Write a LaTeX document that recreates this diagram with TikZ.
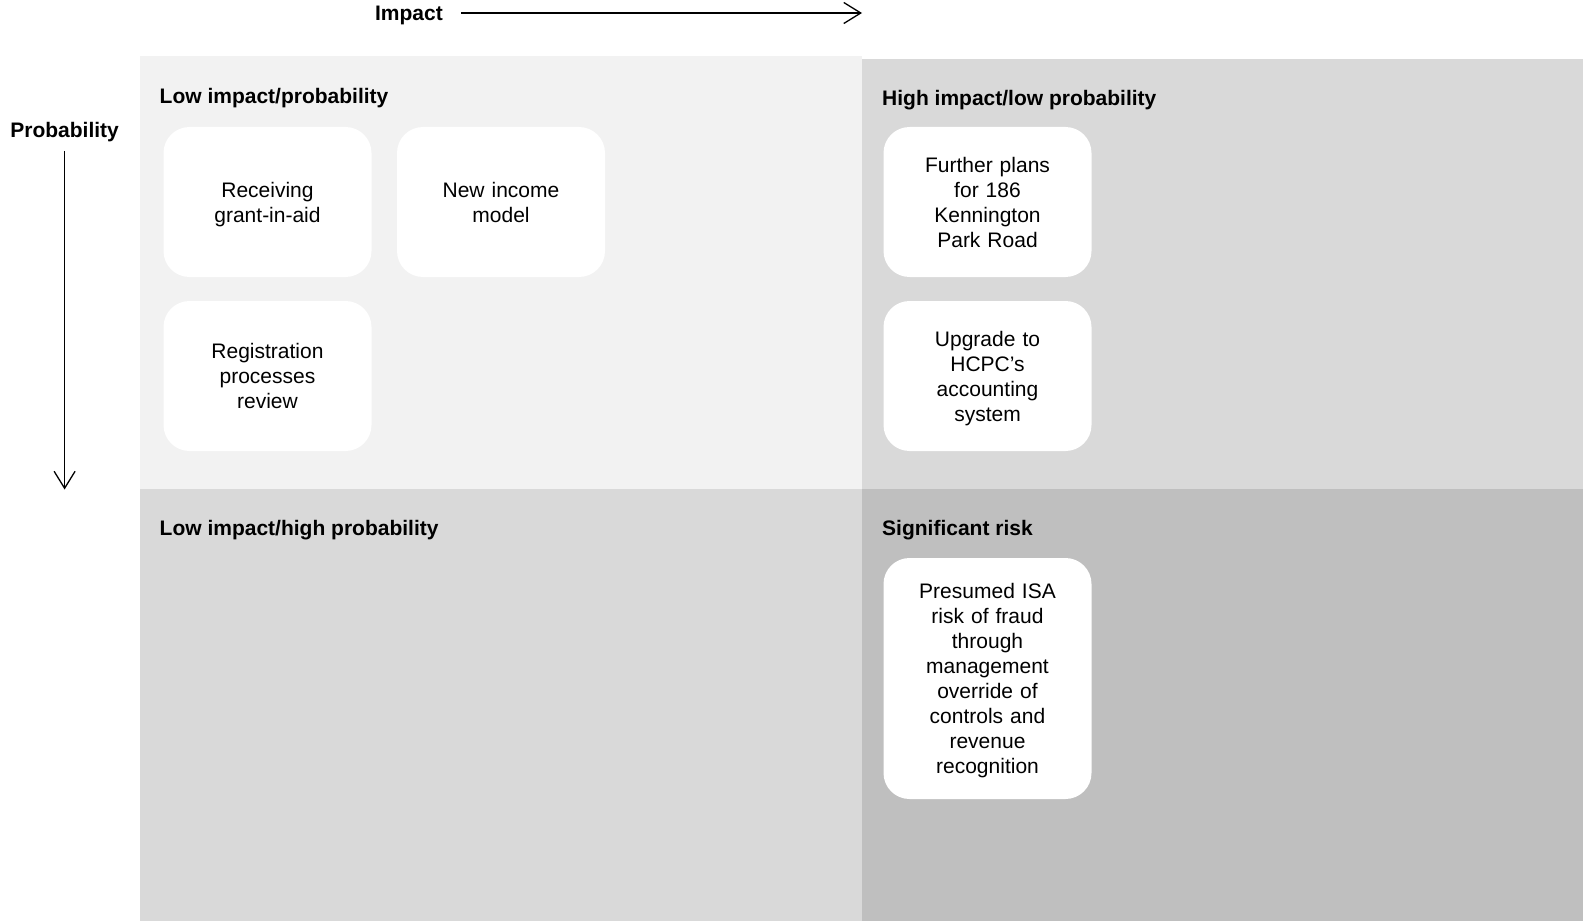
\documentclass[tikz,border=0pt]{standalone}
\usepackage{fontspec}
\setmainfont{Liberation Sans}
\usetikzlibrary{arrows.meta}
\definecolor{qa}{HTML}{F2F2F2}
\definecolor{qb}{HTML}{D9D9D9}
\definecolor{qc}{HTML}{BFBFBF}
\newcommand\lnstrut{\rule[-4.7pt]{0pt}{25pt}}
\tikzset{
  riskbox/.style={rectangle, rounded corners=26pt, fill=white, minimum width=208pt, minimum height=150pt, align=center, text width=190pt, inner sep=0pt, font=\fontsize{21}{25}\selectfont},
  quadlabel/.style={anchor=west, inner sep=0pt, font=\bfseries\fontsize{21}{25.3}\selectfont},
  axislabel/.style={inner sep=0pt, font=\bfseries\fontsize{21}{25.3}\selectfont},
  axisarrow/.style={line width=1.3pt, -{Straight Barb[length=17pt,width=21pt,line width=1.3pt]}}
}
\begin{document}
\begin{tikzpicture}[x=1pt,y=-1pt]
\useasboundingbox (0,0) rectangle (1583,923);
% quadrants
\fill[qa] (139.5,56) rectangle (862,488.5);
\fill[qb] (862,59) rectangle (1583,488.5);
\fill[qb] (139.5,488.5) rectangle (862,921);
\fill[qc] (862,488.5) rectangle (1583,921);
% axes
\node[axislabel] (impact) at (409,15) {Impact};
\coordinate (impA) at (461,13);
\coordinate (impB) at (862,13);
\draw[axisarrow] (impA) -- (impB);
\node[axislabel] (prob) at (64.6,132) {Probability};
\coordinate (probA) at (64.6,151);
\coordinate (probB) at (64.6,489.5);
\draw[axisarrow] (probA) -- (probB);
% quadrant labels
\node[quadlabel] (q1) at (159.5,98.5) {Low impact/probability};
\node[quadlabel] (q2) at (882,100.5) {High impact/low probability};
\node[quadlabel] (q3) at (159.5,530.5) {Low impact/high probability};
\node[quadlabel] (q4) at (882,530.5) {Significant risk};
% boxes
\node[riskbox] (b1) at (267.5,202) {\lnstrut Receiving\\\lnstrut grant-in-aid};
\node[riskbox] (b2) at (501,202) {\lnstrut New income\\\lnstrut model};
\node[riskbox] (b3) at (267.5,376) {\lnstrut Registration\\\lnstrut processes\\\lnstrut review};
\node[riskbox] (b4) at (987.5,202) {\lnstrut Further plans\\\lnstrut for 186\\\lnstrut Kennington\\\lnstrut Park Road};
\node[riskbox] (b5) at (987.5,376) {\lnstrut Upgrade to\\\lnstrut HCPC’s\\\lnstrut accounting\\\lnstrut system};
\node[riskbox, minimum height=241pt] (b6) at (987.5,678.5) {\lnstrut Presumed ISA\\\lnstrut risk of fraud\\\lnstrut through\\\lnstrut management\\\lnstrut override of\\\lnstrut controls and\\\lnstrut revenue\\\lnstrut recognition};
\end{tikzpicture}
\end{document}
